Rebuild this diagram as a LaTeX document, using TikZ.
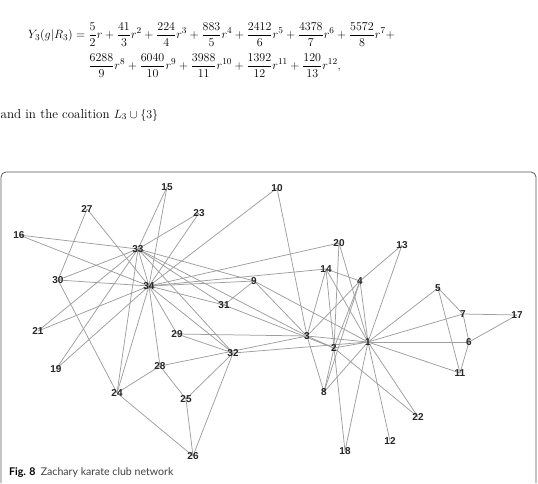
\documentclass[tikz,border=0pt]{standalone}
\usepackage{amsmath,amssymb}
\usepackage{fontspec}
\usepackage{tikz}
\usetikzlibrary{backgrounds}
\newfontfamily\vertfont{Liberation Sans}
\newfontfamily\capfont{Lato}

\begin{document}
\begin{tikzpicture}[x=1pt, y=-1pt, vert/.style={font=\vertfont\bfseries\fontsize{10}{12}\selectfont, text=black!85, inner sep=0pt}, link/.style={draw=black!38, line width=0.75pt}, txt/.style={font=\fontsize{13}{16}\selectfont, inner sep=0pt, anchor=west}]
\useasboundingbox (0,0) rectangle (538,483);
\node[txt] (eq) at (28,50) {$\begin{aligned}Y_3(g|R_3) ={}&\frac{5}{2}r+\frac{41}{3}r^2+\frac{224}{4}r^3+\frac{883}{5}r^4+\frac{2412}{6}r^5+\frac{4378}{7}r^6+\frac{5572}{8}r^7+\\[3pt]&\frac{6288}{9}r^8+\frac{6040}{10}r^9+\frac{3988}{11}r^{10}+\frac{1392}{12}r^{11}+\frac{120}{13}r^{12},\end{aligned}$};
\node[txt] (coal) at (0.5,115) {and in the coalition $L_3\cup\{3\}$};
\draw[black!65, line width=0.8pt, rounded corners=5pt] (1,483) |- (536,172) -- (536,483);
\node[vert] (v1) at (368,342) {1};
\node[vert] (v2) at (334,348) {2};
\node[vert] (v3) at (307,336) {3};
\node[vert] (v4) at (360,281) {4};
\node[vert] (v5) at (438,288) {5};
\node[vert] (v6) at (469,342) {6};
\node[vert] (v7) at (463,314) {7};
\node[vert] (v8) at (324,392) {8};
\node[vert] (v9) at (254,281) {9};
\node[vert] (v10) at (277,188) {10};
\node[vert] (v11) at (460,373) {11};
\node[vert] (v12) at (390,441) {12};
\node[vert] (v13) at (402,245) {13};
\node[vert] (v14) at (326,269) {14};
\node[vert] (v15) at (167,187) {15};
\node[vert] (v16) at (19,235) {16};
\node[vert] (v17) at (517,315) {17};
\node[vert] (v18) at (345,451) {18};
\node[vert] (v19) at (56,369) {19};
\node[vert] (v20) at (339,243) {20};
\node[vert] (v21) at (38,331) {21};
\node[vert] (v22) at (418,417) {22};
\node[vert] (v23) at (199,213) {23};
\node[vert] (v24) at (117,393) {24};
\node[vert] (v25) at (186,399) {25};
\node[vert] (v26) at (193,456) {26};
\node[vert] (v27) at (87,209) {27};
\node[vert] (v28) at (160,366) {28};
\node[vert] (v29) at (177,334) {29};
\node[vert] (v30) at (58,280) {30};
\node[vert] (v31) at (224,305) {31};
\node[vert] (v32) at (233,353) {32};
\node[vert] (v33) at (138,249) {33};
\node[vert] (v34) at (149,286) {34};
\node[font=\capfont\fontsize{10.6}{12}\selectfont, text=black!75, inner sep=0pt, anchor=west] (cap) at (9,473) {\textbf{\color{black}Fig. 8}\enspace Zachary karate club network};
\begin{scope}[on background layer]
\draw[link] (v1.center) -- (v2.center);
\draw[link] (v1.center) -- (v3.center);
\draw[link] (v1.center) -- (v4.center);
\draw[link] (v1.center) -- (v5.center);
\draw[link] (v1.center) -- (v6.center);
\draw[link] (v1.center) -- (v7.center);
\draw[link] (v1.center) -- (v8.center);
\draw[link] (v1.center) -- (v9.center);
\draw[link] (v1.center) -- (v11.center);
\draw[link] (v1.center) -- (v12.center);
\draw[link] (v1.center) -- (v13.center);
\draw[link] (v1.center) -- (v14.center);
\draw[link] (v1.center) -- (v18.center);
\draw[link] (v1.center) -- (v20.center);
\draw[link] (v1.center) -- (v22.center);
\draw[link] (v1.center) -- (v32.center);
\draw[link] (v2.center) -- (v3.center);
\draw[link] (v2.center) -- (v4.center);
\draw[link] (v2.center) -- (v8.center);
\draw[link] (v2.center) -- (v14.center);
\draw[link] (v2.center) -- (v18.center);
\draw[link] (v2.center) -- (v20.center);
\draw[link] (v2.center) -- (v22.center);
\draw[link] (v2.center) -- (v31.center);
\draw[link] (v3.center) -- (v4.center);
\draw[link] (v3.center) -- (v8.center);
\draw[link] (v3.center) -- (v9.center);
\draw[link] (v3.center) -- (v10.center);
\draw[link] (v3.center) -- (v14.center);
\draw[link] (v3.center) -- (v28.center);
\draw[link] (v3.center) -- (v29.center);
\draw[link] (v3.center) -- (v33.center);
\draw[link] (v4.center) -- (v8.center);
\draw[link] (v4.center) -- (v13.center);
\draw[link] (v4.center) -- (v14.center);
\draw[link] (v5.center) -- (v7.center);
\draw[link] (v5.center) -- (v11.center);
\draw[link] (v6.center) -- (v7.center);
\draw[link] (v6.center) -- (v11.center);
\draw[link] (v6.center) -- (v17.center);
\draw[link] (v7.center) -- (v17.center);
\draw[link] (v9.center) -- (v31.center);
\draw[link] (v9.center) -- (v33.center);
\draw[link] (v9.center) -- (v34.center);
\draw[link] (v10.center) -- (v34.center);
\draw[link] (v14.center) -- (v34.center);
\draw[link] (v15.center) -- (v33.center);
\draw[link] (v15.center) -- (v34.center);
\draw[link] (v16.center) -- (v33.center);
\draw[link] (v16.center) -- (v34.center);
\draw[link] (v19.center) -- (v33.center);
\draw[link] (v19.center) -- (v34.center);
\draw[link] (v20.center) -- (v34.center);
\draw[link] (v21.center) -- (v33.center);
\draw[link] (v21.center) -- (v34.center);
\draw[link] (v23.center) -- (v33.center);
\draw[link] (v23.center) -- (v34.center);
\draw[link] (v24.center) -- (v26.center);
\draw[link] (v24.center) -- (v28.center);
\draw[link] (v24.center) -- (v30.center);
\draw[link] (v24.center) -- (v33.center);
\draw[link] (v24.center) -- (v34.center);
\draw[link] (v25.center) -- (v26.center);
\draw[link] (v25.center) -- (v28.center);
\draw[link] (v25.center) -- (v32.center);
\draw[link] (v26.center) -- (v32.center);
\draw[link] (v27.center) -- (v30.center);
\draw[link] (v27.center) -- (v34.center);
\draw[link] (v28.center) -- (v34.center);
\draw[link] (v29.center) -- (v32.center);
\draw[link] (v29.center) -- (v34.center);
\draw[link] (v30.center) -- (v33.center);
\draw[link] (v30.center) -- (v34.center);
\draw[link] (v31.center) -- (v33.center);
\draw[link] (v31.center) -- (v34.center);
\draw[link] (v32.center) -- (v33.center);
\draw[link] (v32.center) -- (v34.center);
\draw[link] (v33.center) -- (v34.center);
\end{scope}
\end{tikzpicture}
\end{document}
